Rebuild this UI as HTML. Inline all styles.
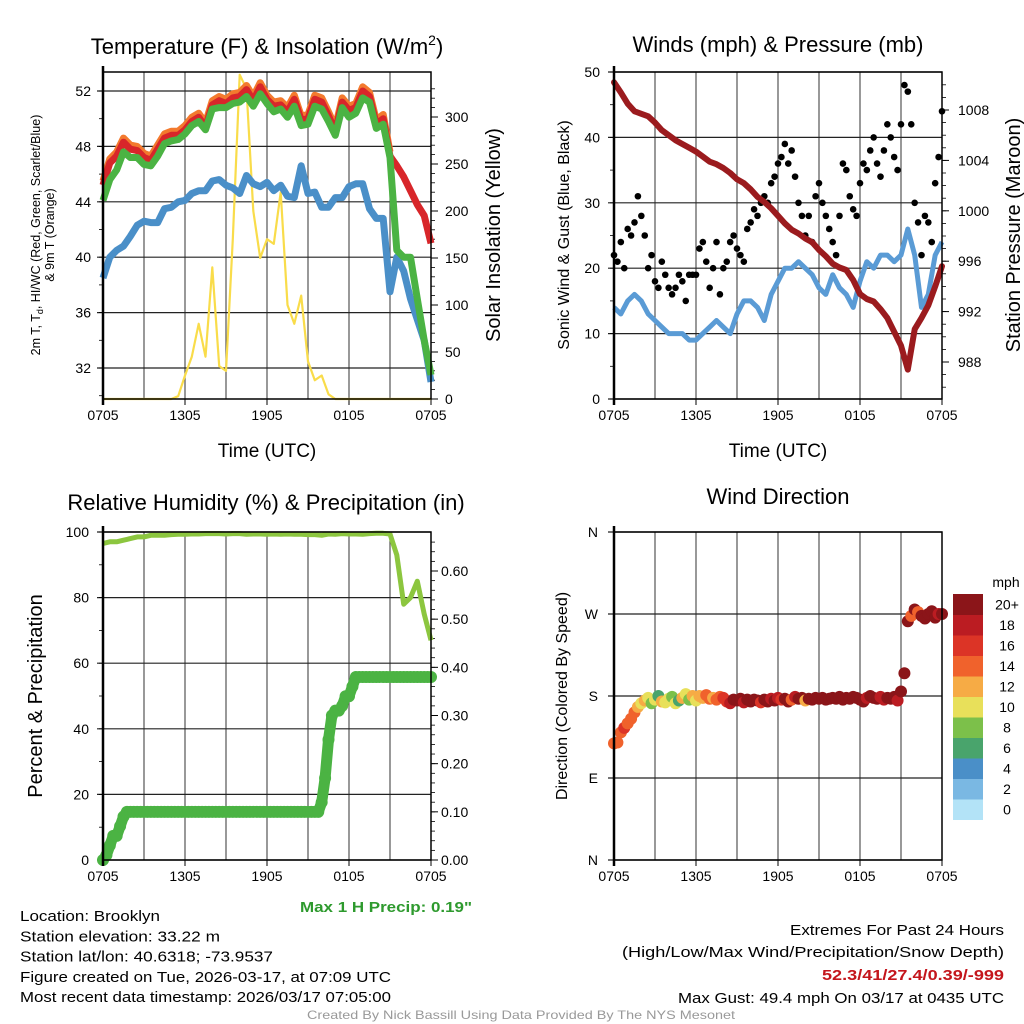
<!DOCTYPE html>
<html><head><meta charset="utf-8"><style>
html,body{margin:0;padding:0;background:#fff}
svg{display:block;font-family:"Liberation Sans",sans-serif}
</style></head><body>
<svg id="c" width="1024" height="1024" viewBox="0 0 1024 1024"></svg>
<script>
// ---------- data ----------
const hours = [0,0.5,1,1.5,2,2.5,3,3.5,4,4.5,5,5.5,6,6.5,7,7.5,8,8.5,9,9.5,10,10.5,11,11.5,12,12.5,13,13.5,14,14.5,15,15.5,16,16.5,17,17.5,18,18.5,19,19.5,20,20.5,21,21.5,22,22.5,23,23.5,24];
const timeTickLabels = ["0705","1305","1905","0105","0705"];
const timeTickHours = [0,6,12,18,24];
const tempRed = [45.2,46.8,47.3,48.3,47.8,47.7,47.2,47.0,47.8,48.6,48.8,48.8,49.2,49.8,50.1,49.4,51.0,51.3,51.1,51.5,51.6,52.1,51.3,52.3,51.4,50.9,51.0,50.5,51.4,49.9,50.0,51.4,51.2,50.2,49.1,51.2,50.6,50.8,52.0,51.6,49.6,50.0,47.3,46.6,45.8,44.8,43.8,43.0,41.0];
const tempOrange = [45.5,47.1,47.6,48.6,48.1,48.0,47.5,47.3,48.1,48.9,49.1,49.1,49.5,50.1,50.4,49.7,51.3,51.6,51.4,51.8,51.9,52.4,51.6,52.6,51.7,51.2,51.3,50.8,51.7,50.2,50.3,51.7,51.5,50.5,49.4,51.5,50.9,51.1,52.3,51.9,49.9,50.3,47.6];
const tempGreen = [44.1,45.6,46.3,47.6,47.2,47.2,46.7,46.6,47.3,48.2,48.4,48.5,48.9,49.5,49.8,49.2,50.7,50.8,50.8,51.1,51.2,51.6,50.9,51.8,51.1,50.5,50.7,50.1,50.9,49.5,49.6,50.9,50.7,49.8,48.8,50.8,50.1,50.4,51.5,51.2,49.3,49.6,47.2,40.5,40.0,40.0,37.0,34.0,31.5];
const tempDew = [38.5,40.0,40.5,40.8,41.5,42.3,42.6,42.5,42.5,43.5,43.6,44.0,44.1,44.6,44.8,44.8,45.5,45.6,45.2,45.0,44.6,45.9,45.3,45.1,45.4,44.8,45.2,44.4,44.3,46.6,44.6,44.7,43.6,43.6,44.3,44.3,45.1,45.3,45.3,43.5,42.8,42.8,37.5,40.0,39.0,37.0,35.5,34.0,31.0];
const solar = [0,0,0,0,0,0,0,0,0,0,0,3,25,45,80,45,140,35,30,170,345,330,200,150,170,165,220,100,80,110,40,20,25,5,0,0,0,0,0,0,0,0,0,0,0,0,0,0,0];
const windSonic = [14,13,15,16,15,13,12,11,10,10,10,9,9,10,11,12,11,10,13,15,15,14,12,16,18,20,20,21,20,19,17,16,19,17,16,14,18,21,20,22,22,21,22,26,22,14,16,22,24];
const gust = [22,21,24,20, 26,25,27,31, 28,25,20,22, 18,17,21,19, 17,16,17,19, 18,15,19,19, 19,23,24,21, 17,20,24,16, 20,21,24,25, 23,22,21,26, 27,29,28,30, 31,30,33,34, 36,37,39,36, 38,34,30,28, 25,28,24,31, 33,30,28,26, 24,22,28,36, 35,31,29,28, 33,36,35,38, 40,36,34,38, 42,40,37,35, 42,48,47,42, 30,27,22,28, 27,24,33,37, 44];
const pressure = [1010.2,1009.4,1008.5,1007.9,1007.7,1007.5,1007.0,1006.4,1006.0,1005.6,1005.3,1005.0,1004.7,1004.3,1003.9,1003.7,1003.4,1003.0,1002.5,1002.2,1001.7,1001.1,1000.7,1000.2,999.6,999.0,998.5,998.2,997.8,997.5,996.9,996.4,995.8,995.5,995.3,994.5,993.4,993.0,992.8,992.2,991.5,990.4,989.3,987.4,990.6,991.5,992.5,994.0,995.6];
const rh = [96.5,97,97,97.5,98,98.5,98.5,99,99,99,99.2,99.3,99.3,99.4,99.4,99.5,99.5,99.5,99.4,99.5,99.5,99.3,99.4,99.4,99.3,99.4,99.3,99.4,99.3,99.3,99.2,99.2,99.0,99.4,99.3,99.5,99.4,99.4,99.3,99.5,99.6,99.6,99.4,93,78,80,85,75,67];
const precip = [0,0.01,0.03,0.05, 0.05,0.07,0.09,0.10, 0.10,0.10,0.10,0.10, 0.10,0.10,0.10,0.10, 0.10,0.10,0.10,0.10, 0.10,0.10,0.10,0.10, 0.10,0.10,0.10,0.10, 0.10,0.10,0.10,0.10, 0.10,0.10,0.10,0.10, 0.10,0.10,0.10,0.10, 0.10,0.10,0.10,0.10, 0.10,0.10,0.10,0.10, 0.10,0.10,0.10,0.10, 0.10,0.10,0.10,0.10, 0.10,0.10,0.10,0.10, 0.10,0.10,0.10,0.10, 0.12,0.17,0.25,0.30, 0.31,0.31,0.32,0.34, 0.34,0.36,0.38,0.38, 0.38,0.38,0.38,0.38, 0.38,0.38,0.38,0.38, 0.38,0.38,0.38,0.38, 0.38,0.38,0.38,0.38, 0.38,0.38,0.38,0.38, 0.38];
const windDir = [128,129,140,145, 150,155,162,168, 172,175,178,172, 176,180,174,173, 177,179,172,175, 178,182,176,180, 175,180,178,181, 177,178,176,179, 178,174,172,176, 175,177,173,176, 174,176,175,173, 176,174,177,175, 178,176,177,174, 176,179,177,178, 175,177,176,178, 177,178,176,177, 178,177,179,176, 178,177,179,178, 176,174,178,180, 178,177,179,176, 178,177,179,175, 185,205,262,268, 275,272,268,265, 270,273,266,270, 270];
const windSpd = [15,14,14,16, 15,15,15,13, 11,12,10,9, 10,7,12,10, 11,9,10,7, 12,11,8,13, 10,12,13,14, 14,13,15,14, 16,17,18,20, 21,20,19,21, 22,21,20,17, 21,20,19,21, 18,17,20,21, 15,19,20,21, 13,20,22,21, 21,20,22,21, 21,22,20,21, 21,20,22,21, 21,20,19,22, 21,20,18,19, 21,20,21,19, 21,20,21,14, 21,15,20,21, 20,21,20,19, 20];
const speedBinLabels = ["0","2","4","6","8","10","12","14","16","18","20+"];
const speedBinColors = ["#b3e3f7","#7ab8e3","#4a8fc8","#49a46c","#7cc04a","#e8e05a","#f6ab45","#f0622c","#dc3426","#bb1c22","#8b1519"];
const tempTicks=[32,36,40,44,48,52], solarTicks=[0,50,100,150,200,250,300];
const windTicks=[0,10,20,30,40,50], presTicks=[988,992,996,1000,1004,1008];
const rhTicks=[0,20,40,60,80,100], precTicks=[0,0.1,0.2,0.3,0.4,0.5,0.6];
const dirTicks=[0,90,180,270,360], dirLabels=["N","E","S","W","N"];

// ---------- helpers ----------
const NS="http://www.w3.org/2000/svg", svg=document.getElementById('c');
function el(tag,attrs,parent,text){const e=document.createElementNS(NS,tag);for(const k in attrs)e.setAttribute(k,attrs[k]);if(text!==undefined)e.textContent=text;(parent||svg).appendChild(e);return e;}
function txt(x,y,s,size,anchor,extra,name){const t=el('text',Object.assign({x:x,y:y,'font-size':size,'text-anchor':anchor||'middle',fill:'#000'},extra||{}),svg,s);

return t;}
function rtxt(x,y,s,size,name){const t=el('text',{x:0,y:0,'font-size':size,'text-anchor':'middle',transform:`translate(${x},${y}) rotate(-90)`},svg,s);

return t;}
function linScale(d0,d1,r0,r1){return v=>r0+(v-d0)/(d1-d0)*(r1-r0);}
function pathOf(xs,ys,xf,yf){return xs.map((t,i)=>(i?'L':'M')+xf(t).toFixed(1)+','+yf(ys[i]).toFixed(1)).join('');}

function panel(x0,x1,y0,y1,name){
  const g=el('g',{});
  
  
  const xf=linScale(0,24,x0,x1);
  for(let h=3;h<24;h+=3){const l=el('line',{x1:xf(h),x2:xf(h),y1:y0,y2:y1,stroke:'#555','stroke-width':1.2},g);
    
    }
  timeTickHours.forEach((h,i)=>{el('line',{x1:xf(h),x2:xf(h),y1:y1,y2:y1+6,stroke:'#000'},g);txt(xf(h),y1+21,timeTickLabels[i],14,'middle',null,'x-tick-label');});
  return {g,xf};
}
function frame(x0,x1,y0,y1,g){const r=el('rect',{x:x0,y:y0,width:x1-x0,height:y1-y0,fill:'none',stroke:'#000','stroke-width':1.5},g);
  
  
  el('line',{x1:x0,x2:x0,y1:y0-6,y2:y1+6,stroke:'#000','stroke-width':2.5},g);}
function hgrid(vals,yf,x0,x1,g){vals.forEach(v=>{const l=el('line',{x1:x0-6,x2:x1,y1:yf(v),y2:yf(v),stroke:'#222','stroke-width':1.2},g);
  
  });}
function minor(from,to,step,yf,x,dir,g,len){for(let v=from;v<=to+1e-9;v+=step){el('line',{x1:x,x2:x+dir*(len||4),y1:yf(v),y2:yf(v),stroke:'#000','stroke-width':0.8},g);}}

// ---------- Panel 1 ----------
(function(){
  const X0=103,X1=431,Y0=72,Y1=399;const {g,xf}=panel(X0,X1,Y0,Y1,'temperature-panel');
  const yT=linScale(32,52,368,91), yS=linScale(0,300,399,117);
  hgrid(tempTicks,yT,X0,X1,g); minor(30,53,2,yT,X0,-1,g);
  tempTicks.forEach(v=>txt(X0-12,yT(v)+5,String(v),14,'end',null,'y-tick-label'));
  solarTicks.forEach(v=>{el('line',{x1:X1,x2:X1+7,y1:yS(v),y2:yS(v),stroke:'#000'},g);txt(X1+14,yS(v)+5,String(v),14,'start',null,'y2-tick-label');});
  minor(0,330,10,yS,X1,1,g);
  const sp=el('path',{d:pathOf(hours,solar,xf,yS),fill:'none',stroke:'#f9dc4a','stroke-width':2.2,'stroke-linejoin':'round'},g);
  
  const dp=el('path',{d:pathOf(hours,tempDew,xf,yT),fill:'none',stroke:'#4a8fc8','stroke-width':7,'stroke-linejoin':'round'},g);
  
  const op=el('path',{d:pathOf(hours.slice(0,tempOrange.length),tempOrange,xf,yT),fill:'none',stroke:'#f37a2e','stroke-width':7,'stroke-linejoin':'round'},g);
  
  const rp=el('path',{d:pathOf(hours,tempRed,xf,yT),fill:'none',stroke:'#d8262a','stroke-width':7,'stroke-linejoin':'round'},g);
  
  const gp=el('path',{d:pathOf(hours,tempGreen,xf,yT),fill:'none',stroke:'#4bb343','stroke-width':7,'stroke-linejoin':'round'},g);
  
  frame(X0,X1,Y0,Y1,g);
  const tt=txt(267,54,'',22,'middle',null,'chart-title-temperature');
  el('tspan',{},tt,'Temperature (F) & Insolation (W/m');
  el('tspan',{'font-size':14,dy:-9},tt,'2');
  el('tspan',{dy:9},tt,')');
  txt(267,457,'Time (UTC)',19,'middle',null,'x-axis-title');
  const t1=el('text',{x:0,y:0,'font-size':12.5,'text-anchor':'middle',transform:'translate(40,235) rotate(-90)'},svg);
  
  el('tspan',{x:0,dy:0},t1,'2m T, T');el('tspan',{'font-size':9,dy:3},t1,'d');el('tspan',{dy:-3},t1,', HI/WC (Red, Green, Scarlet/Blue)');
  el('tspan',{x:0,dy:14},t1,'& 9m T (Orange)');
  rtxt(500,235,'Solar Insolation (Yellow)',20,'y-axis-title-solar');
})();

// ---------- Panel 2 ----------
(function(){
  const X0=614,X1=942,Y0=72,Y1=399;const {g,xf}=panel(X0,X1,Y0,Y1,'wind-pressure-panel');
  const yW=linScale(0,50,399,72), yP=linScale(988,1008,362,110);
  hgrid(windTicks,yW,X0,X1,g); minor(0,50,5,yW,X0,-1,g);
  windTicks.forEach(v=>txt(X0-14,yW(v)+5,String(v),14,'end',null,'y-tick-label'));
  presTicks.forEach(v=>{el('line',{x1:X1,x2:X1+7,y1:yP(v),y2:yP(v),stroke:'#000'},g);txt(X1+16,yP(v)+5,String(v),14,'start',null,'y2-tick-label');});
  minor(986,1010,1,yP,X1,1,g);
  const wp=el('path',{d:pathOf(hours,windSonic,xf,yW),fill:'none',stroke:'#5a9bd5','stroke-width':5,'stroke-linejoin':'round'},g);
  
  gust.forEach((v,i)=>{const c=el('circle',{cx:xf(i*0.25),cy:yW(v),r:3.3,fill:'#000'},g);
    
    });
  const pp=el('path',{d:pathOf(hours,pressure,xf,yP),fill:'none',stroke:'#9b1b1e','stroke-width':6,'stroke-linejoin':'round','stroke-linecap':'round'},g);
  
  frame(X0,X1,Y0,Y1,g);
  txt(778,52,'Winds (mph) & Pressure (mb)',22,'middle',null,'chart-title-winds');
  txt(778,457,'Time (UTC)',19,'middle',null,'x-axis-title');
  rtxt(569,235,'Sonic Wind & Gust (Blue, Black)',16,'y-axis-title-wind');
  rtxt(1020,235,'Station Pressure (Maroon)',20,'y-axis-title-pressure');
})();

// ---------- Panel 3 ----------
(function(){
  const X0=103,X1=431,Y0=532,Y1=860;const {g,xf}=panel(X0,X1,Y0,Y1,'humidity-precip-panel');
  const yR=linScale(0,100,860,532), yQ=linScale(0,0.6,860,571);
  hgrid(rhTicks,yR,X0,X1,g); minor(0,100,10,yR,X0,-1,g);
  rhTicks.forEach(v=>txt(X0-14,yR(v)+5,String(v),14,'end',null,'y-tick-label'));
  precTicks.forEach(v=>{el('line',{x1:X1,x2:X1+7,y1:yQ(v),y2:yQ(v),stroke:'#000'},g);txt(X1+10,yQ(v)+5,v.toFixed(2),14,'start',null,'y2-tick-label');});
  minor(0,0.66,0.02,yQ,X1,1,g);
  const rp=el('path',{d:pathOf(hours,rh,xf,yR),fill:'none',stroke:'#8cc63f','stroke-width':5,'stroke-linejoin':'round'},g);
  
  const pt=precip.map((_,i)=>i*0.25);
  const qp=el('path',{d:pathOf(pt,precip,xf,yQ),fill:'none',stroke:'#4bb343','stroke-width':11,'stroke-linejoin':'round','stroke-linecap':'round'},g);
  
  precip.forEach((v,i)=>{const c=el('circle',{cx:xf(pt[i]),cy:yQ(v),r:6,fill:'#4bb343'},g);
    
    });
  frame(X0,X1,Y0,Y1,g);
  txt(266,510,'Relative Humidity (%) & Precipitation (in)',22,'middle',null,'chart-title-humidity');
  rtxt(42,696,'Percent & Precipitation',20,'y-axis-title-percent');
  txt(386,912,'Max 1 H Precip: 0.19"',15,'middle',{fill:'#2e9a2e','font-weight':'bold',textLength:172,lengthAdjust:'spacingAndGlyphs'},'max-precip-note');
})();

// ---------- Panel 4 ----------
(function(){
  const X0=614,X1=942,Y0=532,Y1=860;const {g,xf}=panel(X0,X1,Y0,Y1,'wind-direction-panel');
  const yD=linScale(0,360,860,532);
  hgrid(dirTicks,yD,X0,X1,g);
  dirTicks.forEach((v,i)=>txt(X0-16,yD(v)+5,dirLabels[i],14,'end',null,'y-tick-label'));
  windDir.forEach((v,i)=>{const b=Math.min(10,Math.floor(windSpd[i]/2));
    const c=el('circle',{cx:xf(i*0.25),cy:yD(v),r:6,fill:speedBinColors[b]},g);
    
    });
  frame(X0,X1,Y0,Y1,g);
  txt(778,504,'Wind Direction',22,'middle',null,'chart-title-direction');
  rtxt(567,696,'Direction (Colored By Speed)',16,'y-axis-title-direction');
  const cb=el('g',{});
  const h=20.5, top=594;
  speedBinColors.forEach((col,i)=>{const yy=top+(10-i)*h;
    const r=el('rect',{x:953,y:yy,width:30,height:h+0.5,fill:col},cb);
    
    txt(1007,yy+h/2+5,speedBinLabels[i],14,'middle',null,'colorbar-label');});
  txt(1006,587,'mph',14,'middle',null,'colorbar-unit');
})();

// ---------- footer ----------
const lines=["Location: Brooklyn","Station elevation: 33.22 m","Station lat/lon: 40.6318; -73.9537","Figure created on Tue, 2026-03-17, at 07:09 UTC","Most recent data timestamp: 2026/03/17 07:05:00"];
const lw=[140,200,253,371,371];
lines.forEach((s,i)=>txt(20,921+i*20.3,s,15,'start',{textLength:lw[i],lengthAdjust:'spacingAndGlyphs'},'station-info-line'));
txt(1004,935,'Extremes For Past 24 Hours',15,'end',{textLength:214,lengthAdjust:'spacingAndGlyphs'},'extremes-heading');
txt(1004,957,'(High/Low/Max Wind/Precipitation/Snow Depth)',15,'end',{textLength:382,lengthAdjust:'spacingAndGlyphs'},'extremes-legend');
txt(1004,980,'52.3/41/27.4/0.39/-999',15,'end',{fill:'#c4161c','font-weight':'bold',textLength:182,lengthAdjust:'spacingAndGlyphs'},'extremes-values');
txt(1004,1003,'Max Gust: 49.4 mph On 03/17 at 0435 UTC',15,'end',{textLength:326,lengthAdjust:'spacingAndGlyphs'},'max-gust-note');
txt(521,1019,'Created By Nick Bassill Using Data Provided By The NYS Mesonet',12,'middle',{fill:'#999',textLength:428,lengthAdjust:'spacingAndGlyphs'},'credit-line');
</script>
</body></html>
